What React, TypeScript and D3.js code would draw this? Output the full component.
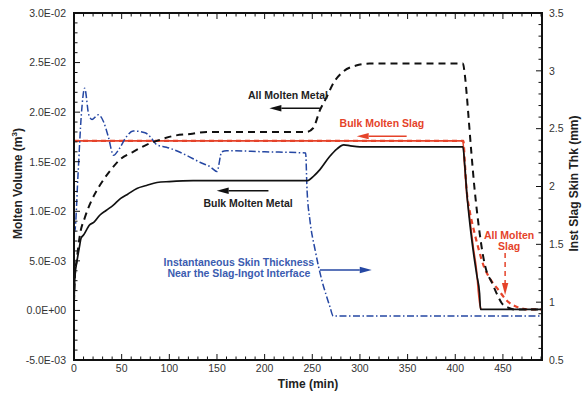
import { useEffect, useRef } from "react";
import * as d3 from "d3";

const WIDTH = 584;
const HEIGHT = 393;

// Bulk Molten Metal (left axis, m^3)
const bulkMetalTime = [0, 1, 3, 5.5, 7.5, 10, 13, 16, 21, 27, 34, 41, 49, 56, 66, 76, 87, 100, 125, 160, 200, 245, 252, 258, 268, 276, 283, 290, 300, 350, 408, 410, 412, 415.5, 419, 422.5, 425.5, 426.5, 450, 491];
const bulkMetalVol = [0.0008, 0.0035, 0.0049, 0.0063, 0.0073, 0.0076, 0.0081, 0.0086, 0.0089, 0.0096, 0.0101, 0.0106, 0.0113, 0.0117, 0.0123, 0.0126, 0.0129, 0.013, 0.0131, 0.0131, 0.0131, 0.0131, 0.0136, 0.0142, 0.0155, 0.0163, 0.0167, 0.0166, 0.0165, 0.0165, 0.0165, 0.0146, 0.012, 0.0086, 0.0059, 0.0036, 0.0017, 0.0001, 0.0001, 0.0001];

// All Molten Metal
const allMetalTime = [0, 1, 3, 6, 11.5, 18.5, 27, 38, 48, 62, 76, 90, 104, 122, 139, 170, 244, 251, 258, 265, 272, 282.5, 296, 310, 350, 408, 410, 412, 414.5, 417, 420, 423, 426, 429, 433, 438, 443, 449, 455, 462, 491];
const allMetalVol = [0.0008, 0.0035, 0.0052, 0.0075, 0.0094, 0.0111, 0.0126, 0.0141, 0.0152, 0.016, 0.0167, 0.0172, 0.0176, 0.0178, 0.018, 0.018, 0.018, 0.0184, 0.0202, 0.0215, 0.0229, 0.0241, 0.0247, 0.0249, 0.0249, 0.0249, 0.0238, 0.0218, 0.0188, 0.0158, 0.0125, 0.0098, 0.0075, 0.0056, 0.0039, 0.0029, 0.0018, 0.0007, 0.0003, 0.0001, 0.0001];

// Bulk Molten Slag
const bulkSlagTime = [0, 408, 409.5, 411.8, 415.2, 419, 422.5, 424.2, 426, 427];
const bulkSlagVol = [0.0171, 0.0171, 0.015, 0.012, 0.0093, 0.0063, 0.0039, 0.0019, 0.0005, 0.0001];

// All Molten Slag
const allSlagTime = [0, 408.5, 410, 411.8, 415.2, 419, 424.2, 429.4, 436.4, 445.1, 454, 466.2, 478.4, 491];
const allSlagVol = [0.0171, 0.0171, 0.015, 0.0123, 0.01, 0.0083, 0.0063, 0.0046, 0.0032, 0.0021, 0.001, 0.0003, 0.0001, 0.0001];

// Instantaneous slag skin thickness (right axis, mm)
const skinTime = [0, 1, 4.2, 7.7, 11.2, 15.5, 19, 25.5, 31, 36, 41.5, 47, 55, 62, 74.5, 80, 87, 97, 104, 118, 132, 143, 150, 155, 160, 200, 243, 244.5, 247.5, 253, 256.5, 260, 265, 268.5, 272, 300, 491];
const skinThk = [1.6, 1.62, 2.1, 2.62, 2.85, 2.62, 2.58, 2.62, 2.56, 2.43, 2.27, 2.32, 2.43, 2.48, 2.465, 2.43, 2.36, 2.34, 2.32, 2.27, 2.21, 2.17, 2.13, 2.3, 2.31, 2.3, 2.29, 1.97, 1.71, 1.45, 1.31, 1.19, 1.05, 0.96, 0.88, 0.88, 0.88];

const xTicks = [0, 50, 100, 150, 200, 250, 300, 350, 400, 450];
const leftTicks = [-0.005, 0, 0.005, 0.01, 0.015, 0.02, 0.025, 0.03];
const rightTicks = [0.5, 1, 1.5, 2, 2.5, 3, 3.5];

const RED = "#e5432a";
const BLUE = "#2547a3";
const BLUE_TEXT = "#3b5cb0";
const FONT = "'Liberation Sans', Arial, Helvetica, sans-serif";

const fmtSci = (v) => {
  const [m, e] = v.toExponential(1).split("e");
  const sign = e[0] === "-" ? "-" : "+";
  const digits = e.replace(/[+-]/, "").padStart(2, "0");
  return `${m}E${sign}${digits}`;
};

const zip = (t, v) => t.map((d, i) => [d, v[i]]);

export default function App() {
  const svgRef = useRef(null);

  useEffect(() => {
    const svg = d3.select(svgRef.current);
    svg.selectAll("*").remove();

    const left = 74, right = 542, top = 13, bottom = 360;

    const x = d3.scaleLinear().domain([0, 491]).range([left, right]);
    const yL = d3.scaleLinear().domain([-0.005, 0.03]).range([bottom, top]);
    const yR = d3.scaleLinear().domain([0.5, 3.5]).range([bottom, top]);

    svg.append("clipPath").attr("id", "plot-clip")
      .append("rect").attr("x", left).attr("y", top)
      .attr("width", right - left).attr("height", bottom - top);

    const g = svg.append("g").attr("clip-path", "url(#plot-clip)");

    const lineL = d3.line().x((d) => x(d[0])).y((d) => yL(d[1])).curve(d3.curveMonotoneX);
    const lineR = d3.line().x((d) => x(d[0])).y((d) => yR(d[1])).curve(d3.curveMonotoneX);

    // Bulk molten slag (solid red)
    g.append("path").attr("d", lineL(zip(bulkSlagTime, bulkSlagVol)))
      .attr("fill", "none").attr("stroke", RED).attr("stroke-width", 1.6);

    // All molten slag (dashed red)
    g.append("path").attr("d", lineL(zip(allSlagTime, allSlagVol)))
      .attr("fill", "none").attr("stroke", RED).attr("stroke-width", 2.2)
      .attr("stroke-dasharray", "5,4");

    // Skin thickness (blue dash-dot)
    g.append("path").attr("d", lineR(zip(skinTime, skinThk)))
      .attr("fill", "none").attr("stroke", BLUE).attr("stroke-width", 1.5)
      .attr("stroke-dasharray", "7,2.5,1.5,2.5");

    // Bulk molten metal (solid black)
    g.append("path").attr("d", lineL(zip(bulkMetalTime, bulkMetalVol)))
      .attr("fill", "none").attr("stroke", "#111").attr("stroke-width", 1.7);

    // All molten metal (dashed black)
    g.append("path").attr("d", lineL(zip(allMetalTime, allMetalVol)))
      .attr("fill", "none").attr("stroke", "#111").attr("stroke-width", 2)
      .attr("stroke-dasharray", "7,5");

    // frame
    svg.append("rect").attr("x", left).attr("y", top)
      .attr("width", right - left).attr("height", bottom - top)
      .attr("fill", "none").attr("stroke", "#111").attr("stroke-width", 2);

    const ticks = svg.append("g").attr("stroke", "#111").attr("stroke-width", 1);

    // x ticks, bottom and top, pointing inward
    d3.range(0, 491, 10).forEach((t) => {
      const len = t % 50 === 0 ? 6 : 3.5;
      ticks.append("line").attr("x1", x(t)).attr("x2", x(t))
        .attr("y1", bottom).attr("y2", bottom - len);
      ticks.append("line").attr("x1", x(t)).attr("x2", x(t))
        .attr("y1", top).attr("y2", top + len);
    });

    // left ticks
    d3.range(-5, 31, 1).forEach((k) => {
      const len = k % 5 === 0 ? 6 : 3.5;
      const yy = yL(k / 1000);
      ticks.append("line").attr("x1", left).attr("x2", left + len)
        .attr("y1", yy).attr("y2", yy);
    });

    // right ticks
    d3.range(5, 36, 1).forEach((k) => {
      const len = k % 5 === 0 ? 6 : 3.5;
      const yy = yR(k / 10);
      ticks.append("line").attr("x1", right).attr("x2", right - len)
        .attr("y1", yy).attr("y2", yy);
    });

    const labels = svg.append("g").attr("font-family", FONT).attr("font-size", 10.5).attr("fill", "#333");

    xTicks.forEach((t) => {
      labels.append("text").attr("x", x(t)).attr("y", bottom + 12)
        .attr("text-anchor", "middle").text(t);
    });
    leftTicks.forEach((v) => {
      labels.append("text").attr("x", left - 8).attr("y", yL(v) + 3.8)
        .attr("text-anchor", "end").text(fmtSci(v));
    });
    rightTicks.forEach((v) => {
      labels.append("text").attr("x", right + 7).attr("y", yR(v) + 3.8)
        .attr("text-anchor", "start").text(d3.format("~g")(v));
    });

    // axis titles
    svg.append("text").attr("x", (left + right) / 2).attr("y", 387.5)
      .attr("text-anchor", "middle").attr("font-family", FONT)
      .attr("font-weight", "bold").attr("font-size", 12).attr("fill", "#222")
      .text("Time (min)");

    const lt = svg.append("text")
      .attr("transform", `translate(22,${(top + bottom) / 2 - 3}) rotate(-90)`)
      .attr("text-anchor", "middle").attr("font-family", FONT)
      .attr("font-weight", "bold").attr("font-size", 12).attr("fill", "#222");
    lt.append("tspan").text("Molten Volume (m");
    lt.append("tspan").attr("font-size", 8).attr("dy", -5).text("3");
    lt.append("tspan").attr("dy", 5).text(")");

    svg.append("text")
      .attr("transform", `translate(578,${(top + bottom) / 2 - 3}) rotate(-90)`)
      .attr("text-anchor", "middle").attr("font-family", FONT)
      .attr("font-weight", "bold").attr("font-size", 12).attr("fill", "#222")
      .text("Inst Slag Skin Thk (mm)");

    // annotations
    const ann = svg.append("g").attr("font-family", FONT).attr("font-weight", "bold").attr("font-size", 10.5);

    const arrow = (x1, y1, x2, y2, color, dashed) => {
      const ang = Math.atan2(y2 - y1, x2 - x1);
      const hl = 12, hw = 3.2;
      const bx = x2 - hl * Math.cos(ang), by = y2 - hl * Math.sin(ang);
      ann.append("line").attr("x1", x1).attr("y1", y1).attr("x2", bx).attr("y2", by)
        .attr("stroke", color).attr("stroke-width", 1.5)
        .attr("stroke-dasharray", dashed ? "5,4" : null);
      const px = -Math.sin(ang) * hw, py = Math.cos(ang) * hw;
      ann.append("path")
        .attr("d", `M${x2},${y2}L${bx + px},${by + py}L${bx - px},${by - py}Z`)
        .attr("fill", color);
    };

    ann.append("text").attr("x", x(224.5)).attr("y", yL(0.0217) + 3.7)
      .attr("text-anchor", "middle").attr("fill", "#222").text("All Molten Metal");
    arrow(x(258), yL(0.0204), x(205), yL(0.0204), "#111", false);

    ann.append("text").attr("x", x(323)).attr("y", yL(0.01886) + 3.7)
      .attr("text-anchor", "middle").attr("fill", RED).text("Bulk Molten Slag");
    arrow(x(349), yL(0.01758), x(296.6), yL(0.01758), RED, false);

    ann.append("text").attr("x", x(182.6)).attr("y", yL(0.0108) + 3.7)
      .attr("text-anchor", "middle").attr("fill", "#222").text("Bulk Molten Metal");
    arrow(x(204), yL(0.01207), x(149.7), yL(0.01207), "#111", false);

    ann.append("text").attr("x", x(173)).attr("y", yR(1.341) + 3.7)
      .attr("text-anchor", "middle").attr("fill", BLUE_TEXT).text("Instantaneous Skin Thickness");
    ann.append("text").attr("x", x(173)).attr("y", yR(1.25) + 3.7)
      .attr("text-anchor", "middle").attr("fill", BLUE_TEXT).text("Near the Slag-Ingot Interface");
    arrow(x(258), yR(1.278), x(312.4), yR(1.278), BLUE, false);

    ann.append("text").attr("x", x(456.5)).attr("y", yL(0.00755) + 3.7)
      .attr("text-anchor", "middle").attr("fill", RED).text("All Molten");
    ann.append("text").attr("x", x(456.5)).attr("y", yL(0.00642) + 3.7)
      .attr("text-anchor", "middle").attr("fill", RED).text("Slag");
    arrow(x(452.3), yL(0.00579), x(452.3), yL(0.00155), RED, true);
  }, []);

  return (
    <svg
      ref={svgRef}
      width={WIDTH}
      height={HEIGHT}
      style={{ position: "absolute", left: 0, top: 0, background: "#fff" }}
    ></svg>
  );
}
